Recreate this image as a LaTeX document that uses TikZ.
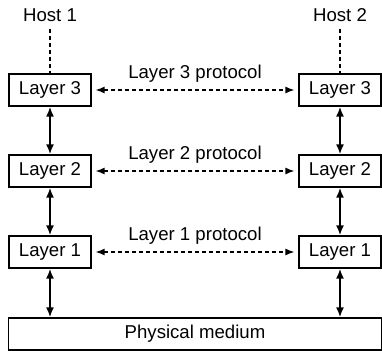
\documentclass[tikz,border=0pt]{standalone}
\usepackage{fontspec}
\setmainfont{Liberation Sans}
\usetikzlibrary{arrows.meta}
\usetikzlibrary{calc}
\usetikzlibrary{positioning}

\begin{document}
\begin{tikzpicture}[x=0.5pt,y=0.5pt,font=\fontsize{9.3}{11}\selectfont,
                    every node/.append style={on grid,node distance=40.5pt and 145pt},
                    layer/.style={draw,line width=0.6pt,minimum width=41pt,minimum height=16pt,inner sep=0pt},
                    peer/.style={<->,>={Latex[length=4.5pt,width=3.5pt]},dash pattern=on 2pt off 1.5pt,line width=0.65pt,shorten <=2pt,shorten >=2pt},
                    stack/.style={<->,>={Latex[length=5pt,width=4pt]},line width=1pt},
                    hostline/.style={dash pattern=on 2pt off 1.5pt,line width=0.65pt}]

\useasboundingbox (-50,90) rectangle (332,-260);

\node[layer] (a3) at (0,0) {Layer 3};
\node[layer, right=of a3] (b3) {Layer 3};
\node[layer, below=of a3] (a2) {Layer 2};
\node[layer, below=of b3] (b2) {Layer 2};
\node[layer, below=of a2] (a1) {Layer 1};
\node[layer, below=of b2] (b1) {Layer 1};
\node[layer, minimum width=186.5pt] (phys) at ($(a1)!0.5!(b1)+(0,-82)$) {Physical medium};
\node [above=37.5pt of a3] (h1) {Host 1};
\node [above=37.5pt of b3] (h2) {Host 2};

\draw[hostline] (h1) -- (a3);
\draw[hostline] (h2) -- (b3);

\draw[peer] (a3) edge node[above]{Layer 3 protocol} (b3);
\draw[peer] (a2) edge node[above]{Layer 2 protocol} (b2);
\draw[peer] (a1) edge node[above]{Layer 1 protocol} (b1);

\draw[stack] (a3) -- (a2);
\draw[stack] (a2) -- (a1);
\draw[stack] (b3) -- (b2);
\draw[stack] (b2) -- (b1);
\draw[stack] (a1) -- (a1 |- phys.north);
\draw[stack] (b1) -- (b1 |- phys.north);

\end{tikzpicture}
\end{document}
